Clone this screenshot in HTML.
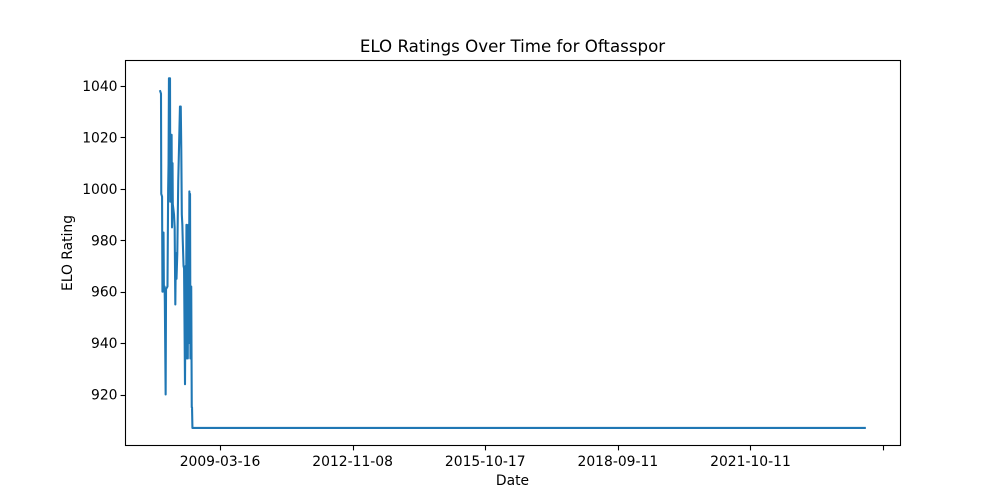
<!DOCTYPE html>
<html lang="en">
<head>
<meta charset="utf-8">
<title>ELO Ratings Over Time for Oftasspor</title>
<style>
html,body{margin:0;padding:0;background:#fff;}
svg{display:block;}
text{font-family:"DejaVu Sans","Liberation Sans",sans-serif;fill:#000;}
</style>
</head>
<body>
<svg id="chart" xmlns="http://www.w3.org/2000/svg" width="1000" height="500" viewBox="0 0 1000 500">
  <rect x="0" y="0" width="1000" height="500" fill="#fff"/>
  <text x="512.5" y="52" font-size="16.67" text-anchor="middle">ELO Ratings Over Time for Oftasspor</text>
  <text x="512.5" y="485" font-size="13.89" text-anchor="middle">Date</text>
  <text x="72" y="253" font-size="13.89" text-anchor="middle" transform="rotate(-90 72 253)">ELO Rating</text>
  <g id="marks"></g>
  <g id="axes"></g>
</svg>
<script>
const sampleIndex = [0,6,8,14,17,25,28,33,35,41,44,55,60,63,66,74,76,79,86,89,93,95,104,109,114,118,123,129,136,149,155,159,163,167,170,176,180,187,192,194,198,201,204,208,212,216,220,222,225,228,231,234,238,240,243,5313];
const ratings = [1038,1037,998,997,960,983,960,962,956,920,961,962,1000,1010,1043,1043,995,1021,1021,985,1010,994,990,985,955,975,965,975,1003,1032,1032,1015,990,986,980,970,969,924,970,934,986,934,960,934,986,940,999,960,998,934,962,962,915,915,907,907];
const tickIndex = [451,1451,2451,3451,4451,5451];
const tickLabels = ["2009-03-16","2012-11-08","2015-10-17","2018-09-11","2021-10-11",""];
const yTicks = [920,940,960,980,1000,1020,1040];

const NS = "http://www.w3.org/2000/svg";
const plot = {left:125, right:900, top:60, bottom:445};
const xMax = 5313;
function xScale(i){ return 160.2 + i * (864.8 - 160.2) / xMax; }
function yScale(v){ return 394.5 + (920 - v) * (394.5 - 86) / 120; }

const marks = document.getElementById("marks");
const axes = document.getElementById("axes");

const line = document.createElementNS(NS, "polyline");


line.setAttribute("points", sampleIndex.map((s, k) => xScale(s).toFixed(2) + "," + yScale(ratings[k]).toFixed(2)).join(" "));
line.setAttribute("fill", "none");
line.setAttribute("stroke", "#1f77b4");
line.setAttribute("stroke-width", "2.08");
line.setAttribute("stroke-linejoin", "round");
line.setAttribute("stroke-linecap", "square");
marks.appendChild(line);

const frame = document.createElementNS(NS, "rect");


frame.setAttribute("x", plot.left + 0.5);
frame.setAttribute("y", plot.top + 0.5);
frame.setAttribute("width", plot.right - plot.left);
frame.setAttribute("height", plot.bottom - plot.top);
frame.setAttribute("fill", "none");
frame.setAttribute("stroke", "#000");
frame.setAttribute("stroke-width", "1.1");
axes.appendChild(frame);

tickIndex.forEach((t, k) => {
  const x = Math.round(xScale(t)) + 0.5;
  const tick = document.createElementNS(NS, "line");
  
  
  tick.setAttribute("x1", x);
  tick.setAttribute("x2", x);
  tick.setAttribute("y1", plot.bottom + 0.5);
  tick.setAttribute("y2", plot.bottom + 5.4);
  tick.setAttribute("stroke", "#000");
  tick.setAttribute("stroke-width", "1.1");
  axes.appendChild(tick);
  const label = document.createElementNS(NS, "text");
  
  
  label.setAttribute("x", xScale(t));
  label.setAttribute("y", 466);
  label.setAttribute("font-size", "13.89");
  label.setAttribute("text-anchor", "middle");
  label.textContent = tickLabels[k];
  axes.appendChild(label);
});

yTicks.forEach((v) => {
  const y = Math.round(yScale(v)) + 0.5;
  const tick = document.createElementNS(NS, "line");
  
  
  tick.setAttribute("x1", plot.left - 4.4);
  tick.setAttribute("x2", plot.left + 0.5);
  tick.setAttribute("y1", y);
  tick.setAttribute("y2", y);
  tick.setAttribute("stroke", "#000");
  tick.setAttribute("stroke-width", "1.1");
  axes.appendChild(tick);
  const label = document.createElementNS(NS, "text");
  
  
  label.setAttribute("x", plot.left - 7.5);
  label.setAttribute("y", yScale(v) + 5);
  label.setAttribute("font-size", "13.89");
  label.setAttribute("text-anchor", "end");
  label.textContent = String(v);
  axes.appendChild(label);
});
</script>
</body>
</html>
